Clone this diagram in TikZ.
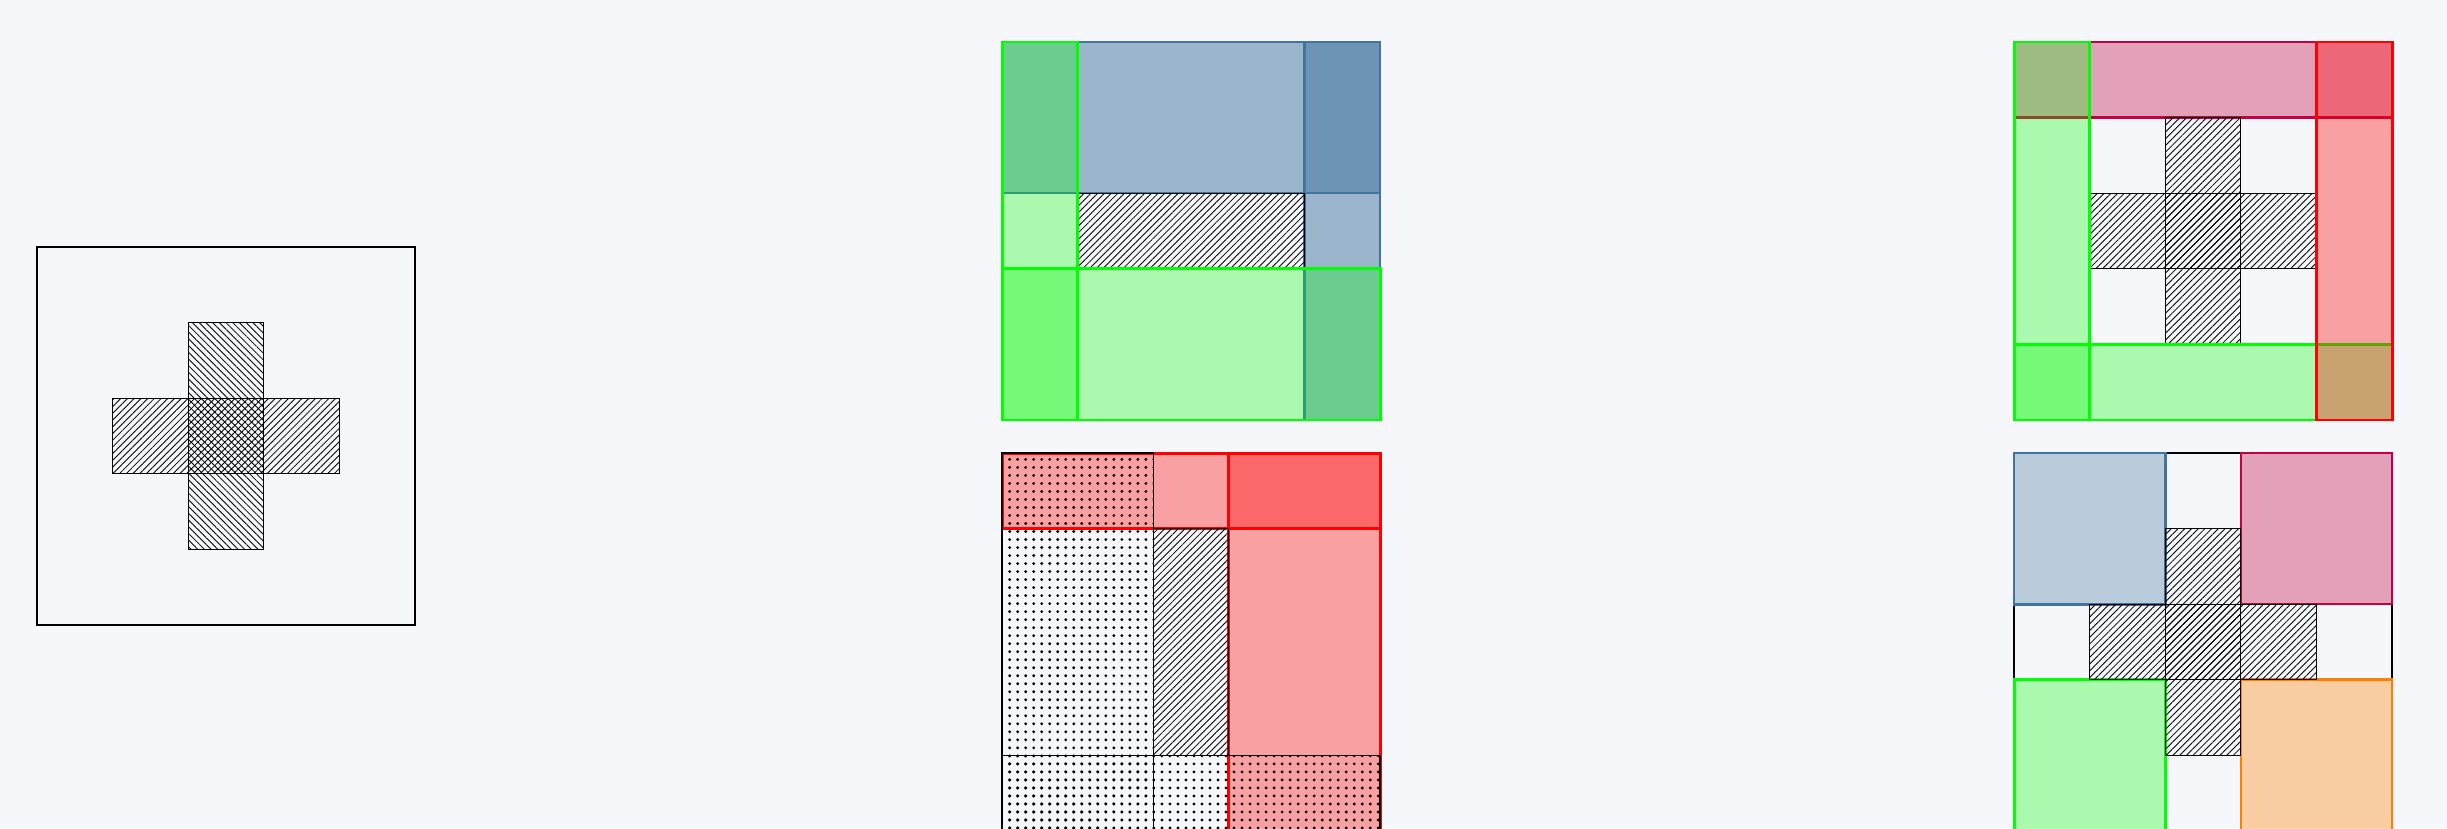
\documentclass[tikz,border=0pt]{standalone}
\usetikzlibrary{patterns.meta}
\definecolor{bgc}{RGB}{245,247,250}
\definecolor{cblue}{RGB}{66,116,160}
\definecolor{cpink}{RGB}{195,0,65}
\definecolor{cgreen}{RGB}{0,255,0}
\definecolor{cred}{RGB}{255,0,0}
\definecolor{corange}{RGB}{255,128,0}
\tikzset{
  thinline/.style={draw=black, line width=0.35pt},
  nehatch/.style={thinline, pattern={Lines[angle=45,distance=1.35pt,line width=0.24pt]}},
  nwhatch/.style={thinline, pattern={Lines[angle=-45,distance=1.35pt,line width=0.24pt]}},
  dotbox/.style={thinline, pattern={Dots[radius=0.45pt,distance=2.28pt]}},
  greenbox/.style={draw=cgreen, fill=cgreen, fill opacity=0.3, line width=0.85pt},
  redbox/.style={draw=cred, fill=cred, fill opacity=0.35, line width=0.85pt},
  pinkbox/.style={draw=cpink, fill=cpink, fill opacity=0.35, line width=0.65pt},
  orangebox/.style={draw=corange, fill=corange, fill opacity=0.35, line width=0.75pt},
  blueboxdark/.style={draw=cblue, fill=cblue, fill opacity=0.5, line width=0.65pt},
  blueboxlight/.style={draw=cblue, fill=cblue, fill opacity=0.33, line width=0.75pt},
  panel/.style={x=0.756cm, y=-0.756cm}
}
\begin{document}
\begin{tikzpicture}
\fill[bgc] (0,0) rectangle (24.47,-8.28);
\useasboundingbox (0,0) rectangle (24.47,-8.28);
\clip (0,0) rectangle (24.47,-8.28);

% left panel
\begin{scope}[shift={(0.37cm,-2.47cm)}, panel]
  \draw[thinline] (0,0) rectangle (5,5);
  \draw[nwhatch] (2,1) rectangle (3,4);
  \draw[nehatch] (1,2) rectangle (4,3);
\end{scope}

% top middle panel
\begin{scope}[shift={(10.02cm,-0.42cm)}, panel]
  \draw[blueboxdark] (0,0) rectangle (5,2);
  \draw[blueboxdark] (4,0) rectangle (5,5);
  \draw[nehatch] (1,2) rectangle (4,3);
  \draw[greenbox] (0,0) rectangle (1,5);
  \draw[greenbox] (0,3) rectangle (5,5);
\end{scope}

% bottom middle panel
\begin{scope}[shift={(10.02cm,-4.53cm)}, panel]
  \draw[redbox] (0,0) rectangle (5,1);
  \draw[redbox] (3,0) rectangle (5,5);
  \draw[dotbox] (0,0) rectangle (2,5);
  \draw[dotbox] (0,4) rectangle (5,5);
  \draw[nehatch] (2,1) rectangle (3,4);
\end{scope}

% top right panel
\begin{scope}[shift={(20.14cm,-0.42cm)}, panel]
  \draw[pinkbox] (0,0) rectangle (5,1);
  \draw[nehatch] (2,1) rectangle (3,4);
  \draw[nehatch] (1,2) rectangle (4,3);
  \draw[greenbox] (0,0) rectangle (1,5);
  \draw[greenbox] (0,4) rectangle (5,5);
  \draw[redbox] (4,0) rectangle (5,5);
\end{scope}

% bottom right panel
\begin{scope}[shift={(20.14cm,-4.53cm)}, panel]
  \draw[thinline] (0,0) rectangle (5,5);
  \draw[blueboxlight] (0,0) rectangle (2,2);
  \draw[pinkbox] (3,0) rectangle (5,2);
  \draw[greenbox] (0,3) rectangle (2,5);
  \draw[orangebox] (3,3) rectangle (5,5);
  \draw[nehatch] (2,1) rectangle (3,4);
  \draw[nehatch] (1,2) rectangle (4,3);
\end{scope}
\end{tikzpicture}
\end{document}
